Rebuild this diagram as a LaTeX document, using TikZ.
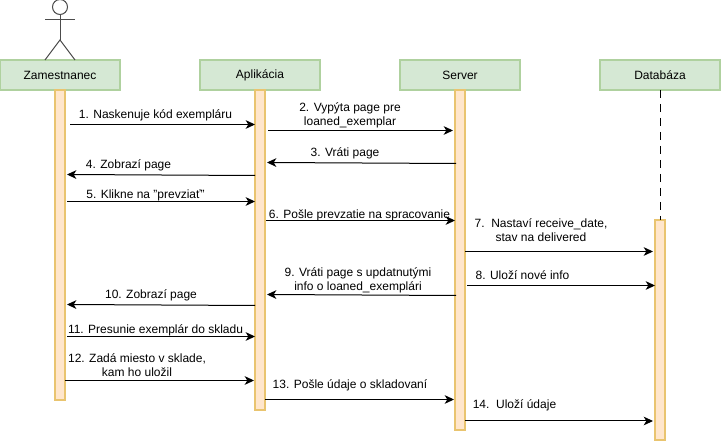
\documentclass[tikz,border=0pt]{standalone}
\usepackage{fontspec}
\setmainfont{Liberation Sans}
\usetikzlibrary{positioning, arrows.meta}
\definecolor{headfill}{HTML}{D5E8D4}
\definecolor{headline}{HTML}{AFD19F}
\definecolor{barfill}{HTML}{FFE6CC}
\definecolor{barline}{HTML}{E9C46F}
\tikzset{
  headbox/.style={rectangle, minimum width=90pt, minimum height=22.5pt, text centered, outer sep=0pt, line width=1pt, draw=headline, fill=headfill},
  lifebar/.style={rectangle, minimum width=7.5pt, inner sep=0pt, outer sep=0pt, line width=1pt, draw=barline, fill=barfill},
  msg/.style={align=center, inner sep=0pt},
  arrow/.style={line width=0.75pt,-{Stealth[length=7pt,width=6.5pt,inset=2pt]}},
  stick/.style={line width=0.75pt, draw=black!70}
}
\begin{document}
\begin{tikzpicture}[x=0.75pt, y=-0.75pt, every node/.style={font=\fontsize{9}{10.5}\selectfont}]
        \useasboundingbox (0,0) rectangle (721,441);

        \node (zam) [headbox] at (60,75) {Zamestnanec};
        \node (apl) [headbox, right=60pt of zam] {Aplikácia};
        \node (srv) [headbox, right=60pt of apl] {Server};
        \node (dbs) [headbox, right=60pt of srv] {Databáza};

        \node (zambar) [lifebar, minimum height=232.5pt, below=0pt of zam] {};
        \node (aplbar) [lifebar, minimum height=240pt, below=0pt of apl] {};
        \node (srvbar) [lifebar, minimum height=255pt, below=0pt of srv] {};
        \node (dbsbar) [lifebar, minimum height=165pt] at (660,330) {};
        \draw [line width=0.75pt, dash pattern=on 6pt off 4.5pt] (dbs) -- (dbsbar);

        \node (head) [circle, minimum size=11.25pt, inner sep=0pt, stick, fill=white] at (60,7) {};
        \coordinate (armL) at (45,20);
        \coordinate (armR) at (75,20);
        \coordinate (hip) at (60,40);
        \coordinate (legL) at (45,60);
        \coordinate (legR) at (75,60);
        \draw [stick] (head) -- (hip);
        \draw [stick] (armL) -- (armR);
        \draw [stick] (legL) -- (hip) -- (legR);

        \coordinate (s1) at (70,124.5);    \coordinate (e1) at (255,124.5);
        \coordinate (s2) at (268,130.5);   \coordinate (e2) at (453,130.5);
        \coordinate (s3) at (456,163.5);   \coordinate (e3) at (267,162.5);
        \coordinate (s4) at (255,175.5);   \coordinate (e4) at (67,174.5);
        \coordinate (s5) at (67,201.5);    \coordinate (e5) at (255,201.5);
        \coordinate (s6) at (266,220.5);   \coordinate (e6) at (455,220.5);
        \coordinate (s7) at (465,251.5);   \coordinate (e7) at (653,251.5);
        \coordinate (s8) at (467,285.5);   \coordinate (e8) at (655,285.5);
        \coordinate (s9) at (456,295.5);   \coordinate (e9) at (267,294.5);
        \coordinate (s10) at (255,305.5);  \coordinate (e10) at (67,304.5);
        \coordinate (s11) at (67,336.5);   \coordinate (e11) at (255,336.5);
        \coordinate (s12) at (65,380.5);   \coordinate (e12) at (254,380.5);
        \coordinate (s13) at (265,399.5);  \coordinate (e13) at (454,399.5);
        \coordinate (s14) at (465,421);    \coordinate (e14) at (653,421);

        \draw [arrow] (s1) -- (e1);
        \draw [arrow] (s2) -- (e2);
        \draw [arrow] (s3) -- (e3);
        \draw [arrow] (s4) -- (e4);
        \draw [arrow] (s5) -- (e5);
        \draw [arrow] (s6) -- (e6);
        \draw [arrow] (s7) -- (e7);
        \draw [arrow] (s8) -- (e8);
        \draw [arrow] (s9) -- (e9);
        \draw [arrow] (s10) -- (e10);
        \draw [arrow] (s11) -- (e11);
        \draw [arrow] (s12) -- (e12);
        \draw [arrow] (s13) -- (e13);
        \draw [arrow] (s14) -- (e14);

        \node (m1) [msg] at (155.5,115.5) {1. Naskenuje kód exempláru};
        \node (m2) [msg] at (350,115.5) {2. Vypýta page pre\\loaned\_exemplar};
        \node (m3) [msg] at (345,153.5) {3. Vráti page};
        \node (m4) [msg] at (128.5,165.5) {4. Zobrazí page};
        \node (m5) [msg] at (145.5,195.5) {5. Klikne na "prevziať"};
        \node (m6) [msg] at (359.5,215.5) {6. Pošle prevzatie na spracovanie};
        \node (m7) [msg] at (541,230.5) {7.\ \ Nastaví receive\_date,\\stav na delivered};
        \node (m8) [msg] at (522.5,275.5) {8. Uloží nové info};
        \node (m9) [msg] at (358,280.5) {9. Vráti page s updatnutými\\info o loaned\_exemplári};
        \node (m10) [msg] at (151,295.5) {10. Zobrazí page};
        \node (m11) [msg] at (155.5,330.5) {11. Presunie exemplár do skladu};
        \node (m12) [msg] at (137,365.5) {12. Zadá miesto v sklade,\\kam ho uložil};
        \node (m13) [msg] at (350,385.5) {13. Pošle údaje o skladovaní};
        \node (m14) [msg] at (514.5,405.5) {14.\ \ Uloží údaje};
    \end{tikzpicture}
\end{document}
